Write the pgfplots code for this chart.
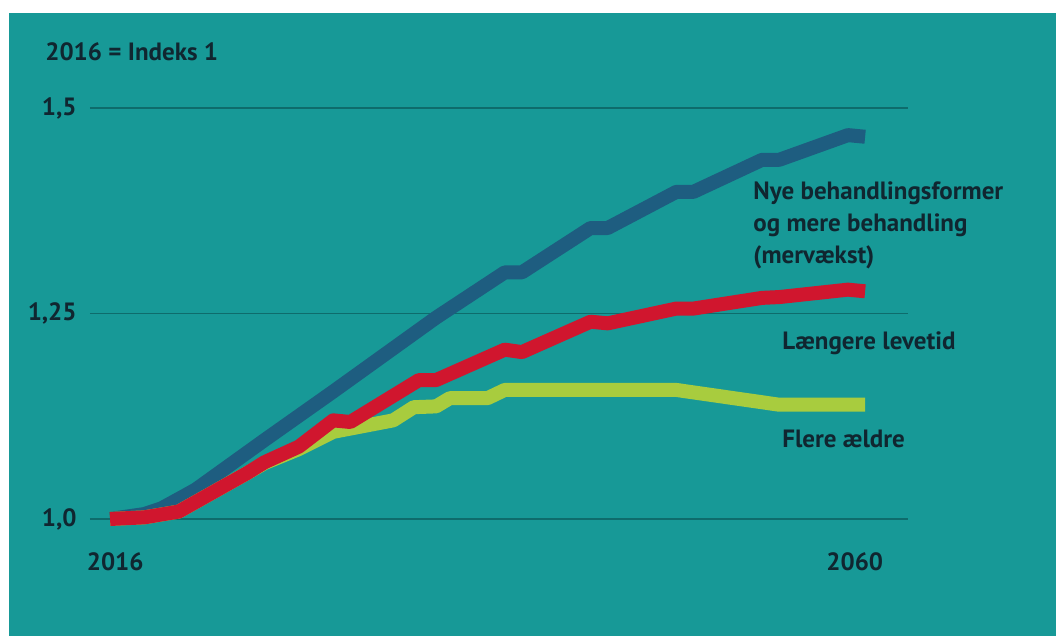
\documentclass[border=0pt]{standalone}
\usepackage{fontspec}
\setmainfont{PT Sans}
\usepackage{pgfplots}
\pgfplotsset{compat=1.18}
\definecolor{bgteal}{RGB}{23,153,151}
\definecolor{gridcol}{RGB}{14,108,108}
\definecolor{linblue}{RGB}{30,93,128}
\definecolor{linred}{RGB}{208,22,46}
\definecolor{lingreen}{RGB}{168,204,62}
\definecolor{txt}{RGB}{16,38,48}
\newcommand\lab{\bfseries\fontsize{12.5}{14.5}\selectfont}
\begin{document}
\begin{tikzpicture}
\fill[white] (0,0) rectangle (528pt,318pt);
\fill[bgteal] (4.5pt,0) rectangle (528pt,311.5pt);
\begin{axis}[
  at={(45pt,58.5pt)}, anchor=south west,
  scale only axis, width=409pt, height=205.5pt,
  xmin=2014.83, xmax=2062.5, ymin=1, ymax=1.5,
  axis line style={draw=none}, major tick length=0pt,
  ymajorgrids, grid style={gridcol, line width=0.9pt},
  xtick={2016.3,2059.4}, xticklabels={2016,2060},
  ytick={1,1.25,1.5}, yticklabels={{1,0},{1,25},{1,5}},
  ticklabel style={font=\lab, text=txt, inner sep=0pt},
  yticklabel style={anchor=east, xshift=-6.5pt},
  xticklabel style={anchor=north, yshift=-16.5pt},
  clip=false,
  every axis plot/.append style={line width=7pt, line join=round, line cap=butt},
]
\addplot[linblue] coordinates {
(2016,1.000) (2018,1.006) (2019,1.013) (2020.4,1.029) (2021,1.036) (2025,1.096)
(2029,1.155) (2030,1.170) (2034,1.230) (2035,1.245) (2039,1.300) (2040,1.300)
(2044,1.354) (2045,1.354) (2049,1.398) (2050,1.398) (2054,1.437) (2055,1.437)
(2059,1.467) (2060,1.465)};
\addplot[lingreen] coordinates {
(2016,1.000) (2018,1.002) (2020,1.009) (2024,1.056) (2025,1.068) (2027,1.085)
(2029,1.106) (2030,1.110) (2032.5,1.120) (2033.7,1.136) (2035,1.137) (2035.8,1.147)
(2038,1.147) (2039,1.157) (2049,1.157) (2055,1.139) (2060,1.139)};
\addplot[linred] coordinates {
(2016,1.000) (2018,1.002) (2020,1.009) (2024,1.056) (2025,1.069) (2027,1.088)
(2029,1.120) (2030,1.118) (2034,1.169) (2035,1.169) (2039,1.206) (2040,1.203)
(2044,1.240) (2045,1.238) (2049,1.256) (2050,1.256) (2054,1.269) (2055,1.270)
(2059,1.279) (2060,1.277)};
\end{axis}
\node[anchor=west, inner sep=0pt, font=\lab, text=txt] at (22.5pt,292pt) {2016 = Indeks 1};
\node[anchor=base west, inner sep=0pt, font=\lab, text=txt] at (376.5pt,218pt) {Nye behandlingsformer};
\node[anchor=base west, inner sep=0pt, font=\lab, text=txt] at (376.5pt,202pt) {og mere behandling};
\node[anchor=base west, inner sep=0pt, font=\lab, text=txt] at (376.5pt,186pt) {(mervækst)};
\node[anchor=base west, inner sep=0pt, font=\lab, text=txt] at (391pt,143pt) {Længere levetid};
\node[anchor=base west, inner sep=0pt, font=\lab, text=txt] at (391pt,94pt) {Flere ældre};
\end{tikzpicture}
\end{document}
